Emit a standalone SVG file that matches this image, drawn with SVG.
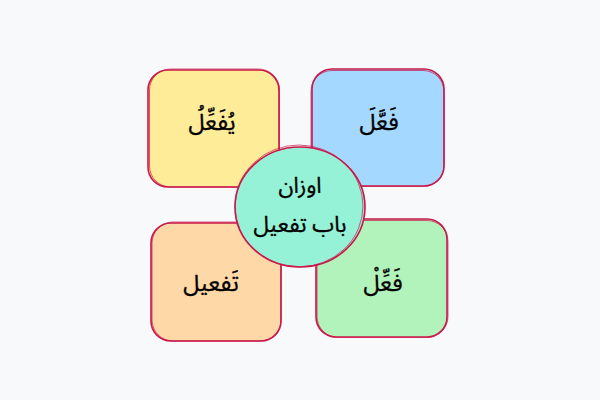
<svg xmlns="http://www.w3.org/2000/svg" width="600" height="400" viewBox="0 0 600 400">
<style>
.box{stroke:#c9184a;stroke-width:1.6;}
.sk{fill:none;stroke:#c9184a;stroke-width:1;opacity:0.7;}
.t{font-family:"Noto Sans Arabic","DejaVu Sans","Noto Sans",sans-serif;font-size:23px;fill:#000;stroke:#000;stroke-width:0.35;text-anchor:middle;dominant-baseline:central;}
.c{font-size:22px;}
</style>
<rect width="600" height="400" fill="#f8f9fb"/>
<g id="yellow">
<rect class="box" x="148" y="70" width="131" height="117" rx="20" fill="#ffec99"/>
<rect class="sk" x="149.5" y="69" width="130" height="118" rx="21"/>
<text class="t" x="212" y="122" direction="rtl">يُفَعِّلُ</text>
</g>
<g id="blue">
<rect class="box" x="312" y="69" width="132" height="117" rx="20" fill="#a5d8ff"/>
<rect class="sk" x="311" y="70.5" width="133" height="116" rx="21"/>
<text class="t" x="379" y="122" direction="rtl">فَعَّلَ</text>
</g>
<g id="orange">
<rect class="box" x="151" y="223" width="130" height="118" rx="20" fill="#ffd8a8"/>
<rect class="sk" x="152" y="222" width="129" height="119" rx="21"/>
<text class="t" x="211" y="283" direction="rtl">تَفعیل</text>
</g>
<g id="green">
<rect class="box" x="316" y="219" width="131" height="118" rx="20" fill="#b2f2bb"/>
<rect class="sk" x="317" y="220.5" width="131" height="117" rx="21"/>
<text class="t" x="383" y="283" direction="rtl">فَعِّلْ</text>
</g>
<g id="center">
<ellipse class="box" cx="300" cy="207" rx="65" ry="60" fill="#96f2d7"/>
<ellipse class="sk" cx="299" cy="206" rx="64" ry="61"/>
<text class="t c" x="300" y="186" direction="rtl">اوزان</text>
<text class="t c" x="300" y="225" direction="rtl">باب تفعیل</text>
</g>
<g id="connectors"></g>
</svg>
